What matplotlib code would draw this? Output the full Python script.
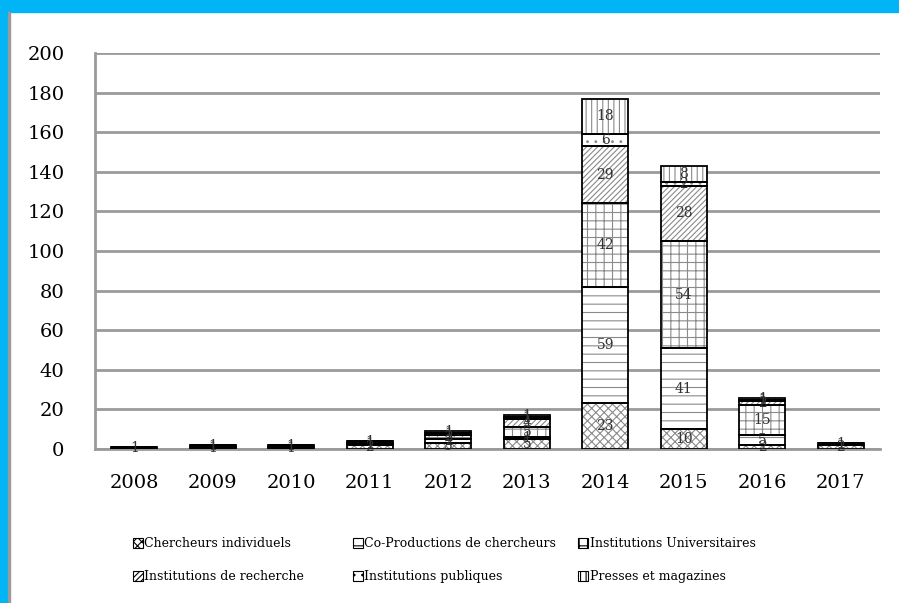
import matplotlib.pyplot as plt
import matplotlib.patches as mpatches
import numpy as np

YEARS = ["2008", "2009", "2010", "2011", "2012", "2013", "2014", "2015", "2016", "2017"]

chercheurs = [0, 0, 0, 2, 3, 5, 23, 10, 2, 2]
co_productions = [0, 1, 0, 0, 2, 1, 59, 41, 5, 0]
universitaires = [1, 1, 1, 1, 2, 5, 42, 54, 15, 1]
recherche = [0, 0, 1, 1, 1, 4, 29, 28, 2, 0]
publiques = [0, 0, 0, 0, 0, 1, 6, 2, 1, 0]
presses = [0, 0, 0, 0, 1, 1, 18, 8, 1, 0]

SERIES = [
    ("Chercheurs individuels", chercheurs, "xxxx"),
    ("Co-Productions de chercheurs", co_productions, "--"),
    ("Institutions Universitaires", universitaires, "++"),
    ("Institutions de recherche", recherche, "//////"),
    ("Institutions publiques", publiques, ".."),
    ("Presses et magazines", presses, "|||"),
]

FONT = "DejaVu Serif"
plt.rcParams["hatch.linewidth"] = 0.8

fig = plt.figure(figsize=(8.99, 6.03), dpi=100)
# blue frame at top and left
fig.patches.append(mpatches.Rectangle((0, 1 - 12 / 603), 1, 12 / 603, transform=fig.transFigure,
                                      color="#00b4f5", zorder=0))
fig.patches.append(mpatches.Rectangle((0, 0), 8 / 899, 1, transform=fig.transFigure,
                                      color="#00b4f5", zorder=0))
fig.patches.append(mpatches.Rectangle((8 / 899, 0), 1.5 / 899, 1 - 12 / 603, transform=fig.transFigure,
                                      color="#9a9a9a", zorder=0))

ax = fig.add_axes([95 / 899, 1 - 449 / 603, 785 / 899, 396 / 603])

x = np.arange(len(YEARS))
width = 0.58
bottom = np.zeros(len(YEARS))
handles = []
for name, vals, hatch in SERIES:
    vals = np.array(vals, dtype=float)
    ax.bar(x, vals, width, bottom=bottom, color="white", edgecolor="#8a8a8a",
           hatch=hatch, linewidth=0, zorder=3)
    bars = ax.bar(x, vals, width, bottom=bottom, color="none", edgecolor="black",
                  linewidth=1.3, zorder=4)
    labels = [str(int(v)) if v > 0 else "" for v in vals]
    ax.bar_label(bars, labels=labels, label_type="center", fontsize=10,
                 family=FONT, color="#333333", zorder=5)
    handles.append(mpatches.Patch(facecolor="white", edgecolor="black", hatch=hatch,
                                  linewidth=0.8, label=name))
    bottom += vals

ax.set_ylim(0, 200)
ax.set_yticks(range(0, 201, 20))
ax.set_xlim(-0.5, len(YEARS) - 0.5)
ax.set_xticks(x)
ax.set_xticklabels(YEARS)
ax.yaxis.grid(True, color="#9a9a9a", linewidth=2, zorder=0)
ax.set_axisbelow(True)
for s in ["top", "right"]:
    ax.spines[s].set_visible(False)
for s in ["left", "bottom"]:
    ax.spines[s].set_color("#9a9a9a")
    ax.spines[s].set_linewidth(2)
ax.tick_params(axis="both", length=0, labelsize=14)
ax.tick_params(axis="y", pad=22)
ax.tick_params(axis="x", pad=18)
for lbl in ax.get_xticklabels() + ax.get_yticklabels():
    lbl.set_family(FONT)

# legend: one small legend per column so the columns sit where the reference has them
col_x = [122, 342, 567]
for col, left in enumerate(col_x):
    pair = [handles[col], handles[col + 3]]
    leg = fig.legend(pair, [h.get_label() for h in pair],
                     loc="upper left", bbox_to_anchor=(left / 899, 1 - 526 / 603),
                     frameon=False, prop={"family": FONT, "size": 9},
                     handlelength=0.8, handleheight=0.8, handletextpad=0.1,
                     labelspacing=1.6)

fig.savefig("out.png", dpi=100, facecolor="white")
